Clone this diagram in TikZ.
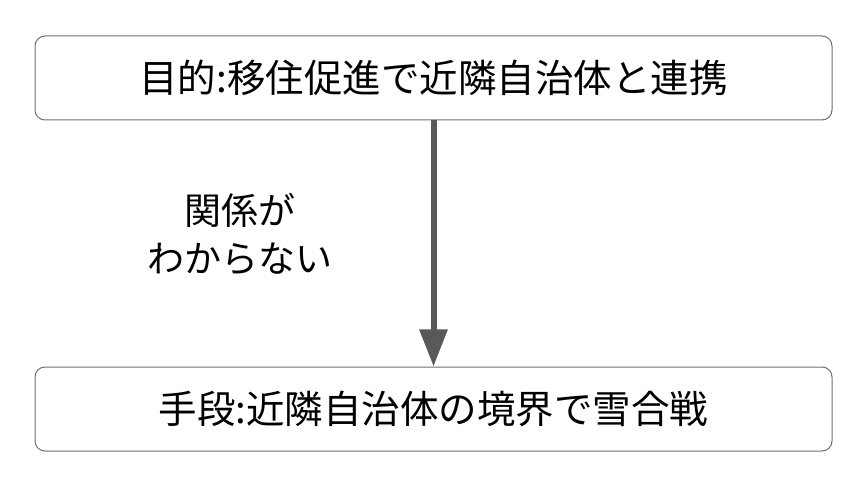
\documentclass[tikz,border=0pt]{standalone}
\usepackage{fontspec}
\setmainfont{Noto Sans CJK JP}
\usepackage{xcolor}
\usepackage{tikz}
\usetikzlibrary{arrows.meta,positioning}
\definecolor{bxRule}{HTML}{707070}
\definecolor{arGrey}{HTML}{595959}

\begin{document}
\begin{tikzpicture}[x=1pt, y=-1pt,
  font=\fontsize{37}{48}\selectfont,
  box/.style={draw=bxRule, fill=white, rounded corners=10pt, minimum width=797pt,
              minimum height=84pt, inner sep=0pt, line width=1pt,
              font=\fontsize{38.5}{48}\selectfont},
  arr/.style={-{Triangle[width=27pt,length=37pt]}, arGrey, line width=6pt}]

\useasboundingbox (0,0) rectangle (865,486);

\node[box] (goal) at (433.5,78) {目的:移住促進で近隣自治体と連携};
\node[box] (means) at (433.5,409) {手段:近隣自治体の境界で雪合戦};

\draw[arr] (goal.south) -- (means.north);
\node[align=center, inner sep=0pt] (gap) at (240,234) {関係が\\わからない};
\end{tikzpicture}
\end{document}
